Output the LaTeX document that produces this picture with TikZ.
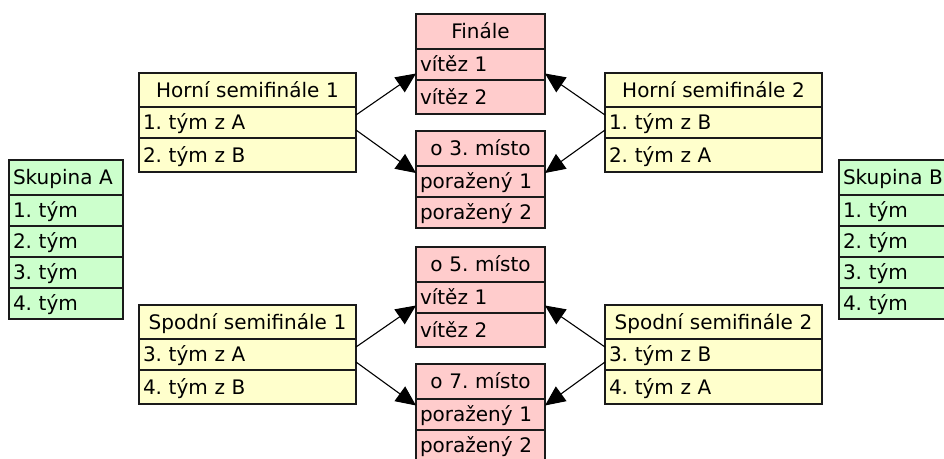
\documentclass[tikz,border=0pt]{standalone}
\usepackage{fontspec}
\setmainfont{DejaVu Sans}
\usetikzlibrary{arrows.meta}
\definecolor{cy}{RGB}{255,255,204}
\definecolor{cp}{RGB}{255,204,204}
\definecolor{cg}{RGB}{204,255,204}
\definecolor{bd}{RGB}{26,26,26}
\frenchspacing
\tikzset{
  cell/.style={draw=bd, line width=1.2pt, inner xsep=4pt, inner ysep=0pt,
    font=\fontsize{20}{24}\selectfont\frenchspacing, text height=14.6pt, text depth=0pt, outer sep=0pt},
  hdr/.style={cell, align=center},
  rowc/.style={cell, align=left},
  grp/.style={fill=cg, minimum width=114pt, text width=106pt},
  semi/.style={fill=cy, minimum width=217pt, text width=209pt},
  fin/.style={fill=cp, minimum width=129pt, text width=121pt},
  arr/.style={-{Triangle[length=20pt,width=18pt]}, line width=1.1pt, black},
}
\begin{document}
\begin{tikzpicture}[x=1pt,y=-1pt]
\useasboundingbox (0,0) rectangle (944,458);
\fill[white] (0,0) rectangle (944,458);
\clip (0,0) rectangle (944,458);
% Skupina A
\node[rowc,grp,minimum height=35pt] (sa0) at (66,177.5) {Skupina A};
\node[rowc,grp,minimum height=31pt] (sa1) at (66,210.5) {1. tým};
\node[rowc,grp,minimum height=31pt] (sa2) at (66,241.5) {2. tým};
\node[rowc,grp,minimum height=31pt] (sa3) at (66,272.5) {3. tým};
\node[rowc,grp,minimum height=31pt] (sa4) at (66,303.5) {4. tým};
% Skupina B
\node[rowc,grp,minimum height=35pt] (sb0) at (896,177.5) {Skupina B};
\node[rowc,grp,minimum height=31pt] (sb1) at (896,210.5) {1. tým};
\node[rowc,grp,minimum height=31pt] (sb2) at (896,241.5) {2. tým};
\node[rowc,grp,minimum height=31pt] (sb3) at (896,272.5) {3. tým};
\node[rowc,grp,minimum height=31pt] (sb4) at (896,303.5) {4. tým};
% Horni semifinale 1
\node[hdr,semi,minimum height=34pt] (hs1h) at (247.5,90) {Horní semifinále 1};
\node[rowc,semi,minimum height=31pt] (hs1a) at (247.5,122.5) {1. tým z A};
\node[rowc,semi,minimum height=34pt] (hs1b) at (247.5,155) {2. tým z B};
% Horni semifinale 2
\node[hdr,semi,minimum height=34pt] (hs2h) at (713.5,90) {Horní semifinále 2};
\node[rowc,semi,minimum height=31pt] (hs2a) at (713.5,122.5) {1. tým z B};
\node[rowc,semi,minimum height=34pt] (hs2b) at (713.5,155) {2. tým z A};
% Spodni semifinale 1
\node[hdr,semi,minimum height=34pt] (ss1h) at (247.5,322) {Spodní semifinále 1};
\node[rowc,semi,minimum height=31pt] (ss1a) at (247.5,354.5) {3. tým z A};
\node[rowc,semi,minimum height=34pt] (ss1b) at (247.5,387) {4. tým z B};
% Spodni semifinale 2
\node[hdr,semi,minimum height=34pt] (ss2h) at (713.5,322) {Spodní semifinále 2};
\node[rowc,semi,minimum height=31pt] (ss2a) at (713.5,354.5) {3. tým z B};
\node[rowc,semi,minimum height=34pt] (ss2b) at (713.5,387) {4. tým z A};
% Finale
\node[hdr,fin,minimum height=35pt] (f0) at (480.5,31.5) {Finále};
\node[rowc,fin,minimum height=31pt] (f1) at (480.5,64.5) {vítěz 1};
\node[rowc,fin,minimum height=34pt] (f2) at (480.5,97) {vítěz 2};
% o 3. misto
\node[hdr,fin,minimum height=35pt] (t0) at (480.5,148.5) {o 3. místo};
\node[rowc,fin,minimum height=31pt] (t1) at (480.5,181.5) {poražený 1};
\node[rowc,fin,minimum height=31pt] (t2) at (480.5,212.5) {poražený 2};
% o 5. misto
\node[hdr,fin,minimum height=35pt] (p0) at (480.5,264.5) {o 5. místo};
\node[rowc,fin,minimum height=31pt] (p1) at (480.5,297.5) {vítěz 1};
\node[rowc,fin,minimum height=34pt] (p2) at (480.5,330) {vítěz 2};
% o 7. misto
\node[hdr,fin,minimum height=35pt] (s0) at (480.5,381.5) {o 7. místo};
\node[rowc,fin,minimum height=31pt] (s1) at (480.5,414.5) {poražený 1};
\node[rowc,fin,minimum height=31pt] (s2) at (480.5,445.5) {poražený 2};
% arrows
\draw[arr] ([yshift=7.5pt]hs1a.east) -- ([yshift=-9pt]f1.west);
\draw[arr] ([yshift=-7.5pt]hs1a.east) -- ([yshift=8.5pt]t1.west);
\draw[arr] ([yshift=7.5pt]hs2a.west) -- ([yshift=-9pt]f1.east);
\draw[arr] ([yshift=-7.5pt]hs2a.west) -- ([yshift=8.5pt]t1.east);
\draw[arr] ([yshift=7.5pt]ss1a.east) -- ([yshift=-8pt]p1.west);
\draw[arr] ([yshift=-7.5pt]ss1a.east) -- ([yshift=9pt]s1.west);
\draw[arr] ([yshift=7.5pt]ss2a.west) -- ([yshift=-8pt]p1.east);
\draw[arr] ([yshift=-7.5pt]ss2a.west) -- ([yshift=9pt]s1.east);
\end{tikzpicture}
\end{document}
